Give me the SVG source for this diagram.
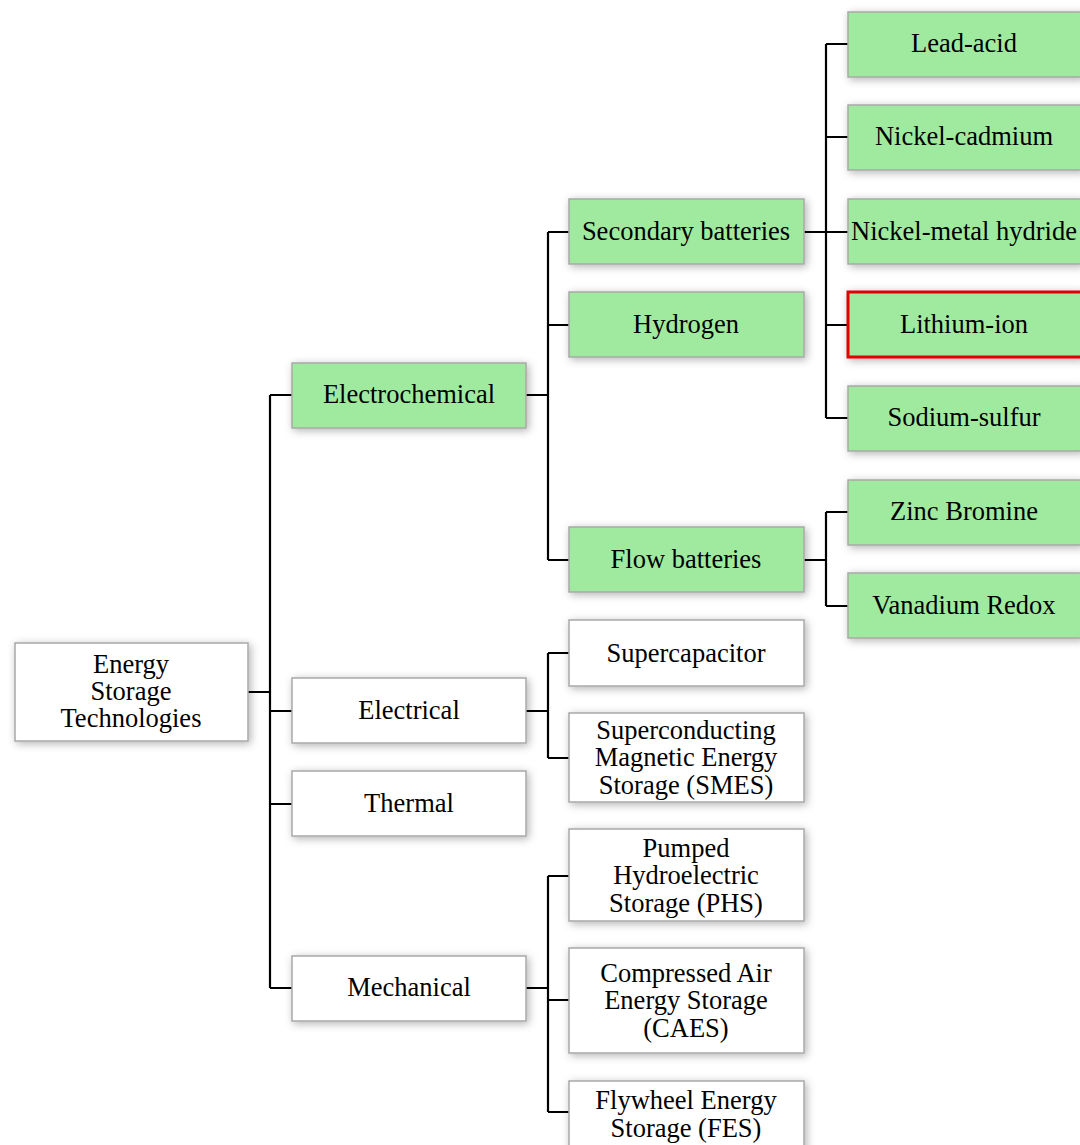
<svg xmlns="http://www.w3.org/2000/svg" width="1080" height="1145" viewBox="0 0 1080 1145">
  <style>
    .box { fill: #ffffff; stroke: #a8a8a8; stroke-width: 1.5; filter: url(#shadow); }
    .green { fill: #a0eaa0; }
    .hl { stroke: #e00000; stroke-width: 3; }
    text { font-family: "Liberation Serif", "Times New Roman", serif; font-size: 26.5px; fill: #000; text-anchor: middle; }
    .conn { fill: none; stroke: #000; stroke-width: 2.2; }
  </style>
  <defs>
    <filter id="shadow" x="-10%" y="-25%" width="125%" height="160%">
      <feDropShadow dx="2" dy="2" stdDeviation="4" flood-color="#000" flood-opacity="0.3"/>
    </filter>
  </defs>
  <rect width="1080" height="1145" fill="#ffffff"/>

  <!-- connectors -->
  <g id="connectors" class="conn">
    <!-- root to level 1 -->
    <path d="M248 692 H270 M270 395 V988 M270 395 H292 M270 711 H292 M270 804 H292 M270 988 H292"/>
    <!-- electrochemical -->
    <path d="M526 395 H548 M548 232 V560 M548 232 H569 M548 325 H569 M548 560 H569"/>
    <!-- electrical -->
    <path d="M526 711 H548 M548 653 V758 M548 653 H569 M548 758 H569"/>
    <!-- mechanical -->
    <path d="M526 988 H548 M548 876 V1112 M548 876 H569 M548 1000 H569 M548 1112 H569"/>
    <!-- secondary batteries -->
    <path d="M804 232 H826 M826 44 V418 M826 44 H848 M826 137 H848 M826 232 H848 M826 325 H848 M826 418 H848"/>
    <!-- flow batteries -->
    <path d="M804 560 H826 M826 512 V606 M826 512 H848 M826 606 H848"/>
  </g>

  <!-- root -->
  <g id="root">
    <rect class="box" x="15" y="643" width="233" height="98"/>
    <text x="131" y="673">Energy</text>
    <text x="131" y="700">Storage</text>
    <text x="131" y="727">Technologies</text>
  </g>

  <!-- level 1 -->
  <g id="electrochemical">
    <rect class="box green" x="292" y="363" width="234" height="65"/>
    <text x="409" y="403">Electrochemical</text>
  </g>
  <g id="electrical">
    <rect class="box" x="292" y="678" width="234" height="65"/>
    <text x="409" y="719">Electrical</text>
  </g>
  <g id="thermal">
    <rect class="box" x="292" y="771" width="234" height="65"/>
    <text x="409" y="812">Thermal</text>
  </g>
  <g id="mechanical">
    <rect class="box" x="292" y="956" width="234" height="65"/>
    <text x="409" y="996">Mechanical</text>
  </g>

  <!-- level 2 -->
  <g id="secondary-batteries">
    <rect class="box green" x="569" y="199" width="235" height="65"/>
    <text x="686" y="240">Secondary batteries</text>
  </g>
  <g id="hydrogen">
    <rect class="box green" x="569" y="292" width="235" height="65"/>
    <text x="686" y="333">Hydrogen</text>
  </g>
  <g id="flow-batteries">
    <rect class="box green" x="569" y="527" width="235" height="65"/>
    <text x="686" y="568">Flow batteries</text>
  </g>
  <g id="supercapacitor">
    <rect class="box" x="569" y="620" width="235" height="66"/>
    <text x="686" y="662">Supercapacitor</text>
  </g>
  <g id="smes">
    <rect class="box" x="569" y="713" width="235" height="89"/>
    <text x="686" y="739">Superconducting</text>
    <text x="686" y="766">Magnetic Energy</text>
    <text x="686" y="794">Storage (SMES)</text>
  </g>
  <g id="phs">
    <rect class="box" x="569" y="829" width="235" height="92"/>
    <text x="686" y="857">Pumped</text>
    <text x="686" y="884">Hydroelectric</text>
    <text x="686" y="912">Storage (PHS)</text>
  </g>
  <g id="caes">
    <rect class="box" x="569" y="948" width="235" height="105"/>
    <text x="686" y="982">Compressed Air</text>
    <text x="686" y="1009">Energy Storage</text>
    <text x="686" y="1037">(CAES)</text>
  </g>
  <g id="fes">
    <rect class="box" x="569" y="1081" width="235" height="80"/>
    <text x="686" y="1109">Flywheel Energy</text>
    <text x="686" y="1137">Storage (FES)</text>
  </g>

  <!-- level 3 -->
  <g id="lead-acid">
    <rect class="box green" x="848" y="12" width="234" height="65"/>
    <text x="964" y="52">Lead-acid</text>
  </g>
  <g id="nickel-cadmium">
    <rect class="box green" x="848" y="105" width="234" height="65"/>
    <text x="964" y="145">Nickel-cadmium</text>
  </g>
  <g id="nickel-metal-hydride">
    <rect class="box green" x="848" y="199" width="234" height="65"/>
    <text x="964" y="240">Nickel-metal hydride</text>
  </g>
  <g id="lithium-ion">
    <rect class="box green hl" x="848" y="292" width="234" height="65"/>
    <text x="964" y="333">Lithium-ion</text>
  </g>
  <g id="sodium-sulfur">
    <rect class="box green" x="848" y="386" width="234" height="65"/>
    <text x="964" y="426">Sodium-sulfur</text>
  </g>
  <g id="zinc-bromine">
    <rect class="box green" x="848" y="480" width="234" height="65"/>
    <text x="964" y="520">Zinc Bromine</text>
  </g>
  <g id="vanadium-redox">
    <rect class="box green" x="848" y="573" width="234" height="65"/>
    <text x="964" y="614">Vanadium Redox</text>
  </g>
</svg>
